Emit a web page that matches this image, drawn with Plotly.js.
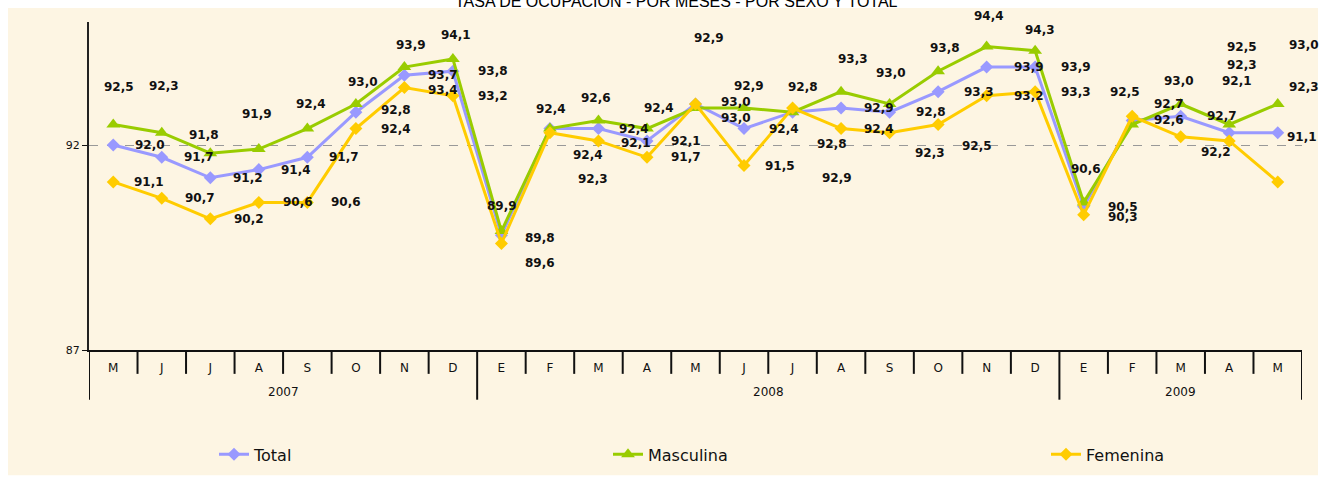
<!DOCTYPE html>
<html>
<head>
<meta charset="utf-8">
<script src="https://cdn.plot.ly/plotly-3.0.1.min.js"></script>
<style>html,body{margin:0;padding:0;background:#fff;}#chart{width:1325px;height:483px;}</style>
</head>
<body>
<div id="chart"></div>
<script>
// ---- data ----
const years = ['2007','2007','2007','2007','2007','2007','2007','2007',
  '2008','2008','2008','2008','2008','2008','2008','2008','2008','2008','2008','2008',
  '2009','2009','2009','2009','2009'];
const months = ['M','J','J','A','S','O','N','D',
  'E','F','M','A','M','J','J','A','S','O','N','D',
  'E','F','M','A','M'];
const total = [92.0,91.7,91.2,91.4,91.7,92.8,93.7,93.8,
  89.8,92.4,92.4,92.1,93.0,92.4,92.8,92.9,92.8,93.3,93.9,93.9,
  90.5,92.6,92.7,92.3,92.3];
const masculina = [92.5,92.3,91.8,91.9,92.4,93.0,93.9,94.1,
  89.9,92.4,92.6,92.4,92.9,92.9,92.8,93.3,93.0,93.8,94.4,94.3,
  90.6,92.5,93.0,92.5,93.0];
const femenina = [91.1,90.7,90.2,90.6,90.6,92.4,93.4,93.2,
  89.6,92.3,92.1,91.7,93.0,91.5,92.9,92.4,92.3,92.5,93.2,93.3,
  90.3,92.7,92.2,92.1,91.1];

// ---- label offsets (px, style only) ----
const mascOff = [[6,-38],[2,-47],[-6,-18],[-2,-35],[4,-25],[7,-22],[7,-22],[3,-24],
  [1,-25],[1,-20],[-2,-22],[12,-21],[13,-70],[5,-22],[10,-25],[12,-33],[1,-31],[7,-23],[2,-31],[5,-21],
  [2,-33],[-7,-33],[-2,-23],[13,-78],[26,-59]];
const totOff = [[37,0],[37,0],[38,0],[37,0],[37,0],[40,-2],[39,0],[40,0],
  [39,3],[38,26],[36,0],[39,0],[40,-2],[40,0],[39,32],[38,0],[41,0],[41,0],[42,0],[41,0],
  [39,0],[37,0],[41,0],[13,-68],[26,-46]];
const femOff = [[36,0],[38,0],[39,0],[39,0],[39,0],[40,0],[39,2],[40,0],
  [39,20],[43,46],[38,2],[39,0],[40,14],[36,0],[44,70],[38,0],[40,20],[39,21],[42,0],[41,0],
  [39,2],[37,-12],[35,15],[8,-60],[24,-45]];

// unique category keys (zero-width spaces keep repeated letters distinct)
const monthKeys = months.map((m,i)=> m + '\u200B'.repeat(i));

const fmt = v => v.toFixed(1).replace('.', ',');
const FONT = 'DejaVu Sans, Arial, sans-serif';

function mk(name, y, color, symbol, size, legend) {
  return {
    type:'scatter', mode:'lines+markers', name:name, x:monthKeys, y:y,
    line:{color:color, width:3},
    marker:{color:color, symbol:symbol, size:size},
    legend:legend, hoverinfo:'skip'
  };
}
const traces = [
  mk('Total', total, '#9999FF', 'diamond', 10, 'legend'),
  mk('Masculina', masculina, '#99CC00', 'triangle-up', 12, 'legend2'),
  mk('Femenina', femenina, '#FFCC00', 'diamond', 10, 'legend3')
];

const L = 89, R = 1302, T = 22, B = 352, W = 1325, H = 483;
const px2x = p => (p - L)/(R - L);
const px2y = p => (B - p)/(B - T);

const annotations = [];
function addLabels(vals, offs) {
  vals.forEach((v,i)=>{
    annotations.push({
      xref:'x', yref:'y', x:i, y:v, text:fmt(v), showarrow:false,
      xshift:offs[i][0], yshift:-offs[i][1],
      font:{family:FONT, size:12, color:'#111', weight:'bold'}
    });
  });
}
addLabels(masculina, mascOff);
addLabels(total, totOff);
addLabels(femenina, femOff);

// title (partly above the page edge, as in the reference)
annotations.push({xref:'paper', yref:'paper', x:px2x(676), y:px2y(0), xanchor:'center', yanchor:'middle',
  yshift:-1, showarrow:false, text:'TASA DE OCUPACIÓN - POR MESES - POR SEXO Y TOTAL',
  font:{family:'Liberation Sans, Arial, sans-serif', size:16, color:'#000'}});

// year group labels and separators
const shapes = [{type:'rect', xref:'paper', yref:'paper', layer:'below',
  x0:px2x(8), x1:px2x(1318), y0:px2y(478), y1:px2y(8), fillcolor:'#FDF5E3', line:{width:0}}];
const groups = [];
years.forEach((y,i)=>{
  if (!groups.length || groups[groups.length-1].y !== y) groups.push({y:y, s:i, e:i});
  else groups[groups.length-1].e = i;
});
groups.forEach(g=>{
  annotations.push({xref:'x', yref:'paper', x:(g.s+g.e)/2, y:px2y(394), yanchor:'middle',
    showarrow:false, text:g.y, font:{family:FONT, size:12, color:'#111'}});
  shapes.push({type:'line', xref:'x', yref:'paper', x0:g.s-0.5, x1:g.s-0.5, y0:0, y1:px2y(402),
    line:{color:'#111', width:2}});
});
shapes.push({type:'line', xref:'x', yref:'paper', x0:years.length-0.5, x1:years.length-0.5, y0:0, y1:px2y(402),
  line:{color:'#111', width:2}});
months.forEach((m,i)=>{
  if (i>0 && years[i]===years[i-1]) {
    shapes.push({type:'line', xref:'x', yref:'paper', x0:i-0.5, x1:i-0.5, y0:0, y1:px2y(376),
      line:{color:'#111', width:2}});
  }
});

const legendBase = {orientation:'h', yanchor:'middle', xanchor:'left', y:px2y(457),
  bgcolor:'rgba(0,0,0,0)', font:{family:FONT, size:16, color:'#111'}};

const layout = {
  width:W, height:H,
  margin:{l:L, r:W-R, t:T, b:H-B, pad:0},
  paper_bgcolor:'#ffffff', plot_bgcolor:'rgba(0,0,0,0)',
  showlegend:true,
  legend:Object.assign({}, legendBase, {x:px2x(214)}),
  legend2:Object.assign({}, legendBase, {x:px2x(608)}),
  legend3:Object.assign({}, legendBase, {x:px2x(1046)}),
  xaxis:{type:'category', categoryarray:monthKeys, categoryorder:'array', range:[-0.5, 24.5],
    tickvals:monthKeys, ticktext:months,
    showline:true, linecolor:'#111', linewidth:2, ticks:'', ticklabelstandoff:6,
    tickfont:{family:FONT, size:12, color:'#111'}, showgrid:false, zeroline:false, fixedrange:true},
  yaxis:{range:[87, 95], tick0:87, dtick:5, ticks:'outside', ticklen:5, tickwidth:1, tickcolor:'#111',
    showline:true, linecolor:'#222', linewidth:2, showgrid:true, gridcolor:'#999', griddash:'dash', gridwidth:1,
    zeroline:false, tickfont:{family:FONT, size:11, color:'#111'}, fixedrange:true},
  shapes:shapes,
  annotations:annotations
};

Plotly.newPlot('chart', traces, layout, {displayModeBar:false, staticPlot:true});
</script>
</body>
</html>
